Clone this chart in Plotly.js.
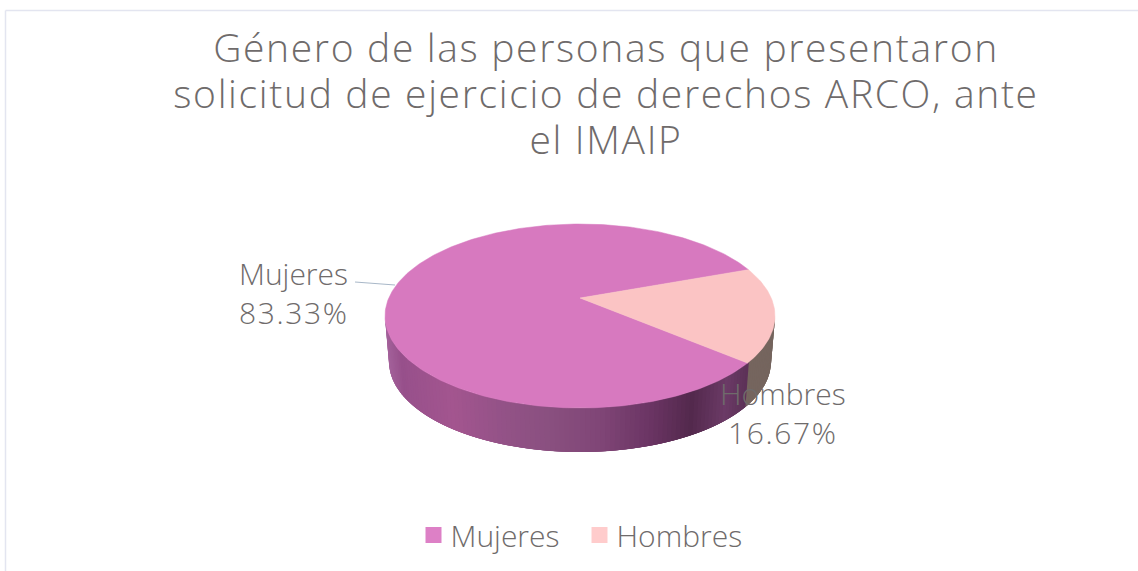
<!DOCTYPE html>
<html><head><meta charset="utf-8"><script src="https://cdn.plot.ly/plotly-3.0.1.min.js"></script>
<style>html,body{margin:0;padding:0;background:#fff}
.gtitle{letter-spacing:1.66px}
.annotation-text tspan.line:nth-child(2){letter-spacing:1.6px}</style></head>
<body><div id="chart" style="width:1138px;height:571px"></div>
<script>
const categories = ["Mujeres", "Hombres"];
const shares = [83.33, 16.67];
const labelsText = ["83.33%", "16.67%"];
const topColors = ["#d779bf", "#fbc4c4"];
const legendColors = ["#dd80c6", "#ffcccc"];
const chartTitle = "Género de las personas que presentaron<br>solicitud de ejercicio de derechos ARCO, ante<br>el IMAIP";

const FONT = "Open Sans, sans-serif", TXT = "#6f6b6b";
// geometry of the tilted disc (pixels = axis units)
const cx = 580, cy = 316, rx = 195, ry = 92, apexLift = 18, depth = 46;
const persp = apexLift * 2 / (ry * 2), ax = rx * Math.sqrt(1 - persp * persp);
const startDeg = 20; // Hombres begins here, clockwise
const rad = d => d * Math.PI / 180;
function project(deg) {
  const u = Math.cos(rad(deg)), v = Math.sin(rad(deg)), w = 1 + persp * v;
  return [cx + ax * u / w, cy - (ry * v + apexLift) / w];
}
function arcPts(a, b) { const p = [], n = Math.ceil(Math.abs(b - a)); for (let i = 0; i <= n; i++) p.push(project(a + (b - a) * i / n)); return p; }
const total = shares[0] + shares[1];
const sweepH = shares[1] / total * 360, sweepM = shares[0] / total * 360;
const hombresEnd = startDeg - sweepH;
const apex = [cx, cy - apexLift];
const slicePts = [arcPts(hombresEnd, hombresEnd - sweepM), arcPts(startDeg, hombresEnd)];
const edgeX = project(hombresEnd)[0];

// wall shading
const stops = [[385,"#a4629b"],[400,"#97508b"],[450,"#a3558f"],[500,"#935287"],[545,"#8a5080"],[600,"#7f4576"],[650,"#6a3463"],[690,"#53294d"],[725,"#6b3a66"],[750,"#5a3055"]];
const hex = c => [1,3,5].map(i => parseInt(c.slice(i,i+2),16));
function shade(x) {
  for (let i = 0; i < stops.length - 1; i++) if (x <= stops[i+1][0]) {
    const t = Math.max(0,(x - stops[i][0])/(stops[i+1][0]-stops[i][0])), a = hex(stops[i][1]), b = hex(stops[i+1][1]);
    return "rgb(" + a.map((v,k)=>Math.round(v+(b[k]-v)*t)).join(",") + ")";
  }
  return stops[stops.length-1][1];
}
const traces = [];
// Painted left-to-right with overlap so no seams show
for (let t = 180; t > 0; t -= 1.5) {
  const a = rad(t), b = rad(Math.max(0, t - 6));
  const xs = [cx+rx*Math.cos(a), cx+rx*Math.cos(b), cx+(rx-4)*Math.cos(b), cx+(rx-4)*Math.cos(a), cx+rx*Math.cos(a)];
  const ys = [cy+ry*Math.sin(a), cy+ry*Math.sin(b), cy+depth+(ry-2)*Math.sin(b), cy+depth+(ry-2)*Math.sin(a), cy+ry*Math.sin(a)];
  const col = xs[0] > edgeX ? "#75655e" : shade(xs[0]);
  traces.push({x:xs,y:ys,mode:"lines",fill:"toself",fillcolor:col,line:{width:0},showlegend:false,hoverinfo:"skip"});
}
slicePts.forEach((pts,i) => {
  const xs=[apex[0]].concat(pts.map(p=>p[0]),[apex[0]]), ys=[apex[1]].concat(pts.map(p=>p[1]),[apex[1]]);
  traces.push({x:xs,y:ys,mode:"lines",fill:"toself",fillcolor:topColors[i],line:{color:topColors[i],width:0.5},name:categories[i],showlegend:false,hoverinfo:"name"});
});
// leader line
traces.push({x:[355,395],y:[282,285],mode:"lines",line:{color:"#a9b8c8",width:1.2},showlegend:false,hoverinfo:"skip"});
// legend keys
categories.forEach((c,i)=>traces.push({x:[null],y:[null],mode:"markers",name:c,marker:{symbol:"square",size:16,color:legendColors[i]},showlegend:true}));

const layout = {
  width:1138,height:571,margin:{l:0,r:0,t:0,b:0},paper_bgcolor:"#fff",plot_bgcolor:"#fff",
  xaxis:{range:[0,1138],visible:false,fixedrange:true},
  yaxis:{range:[571,0],visible:false,fixedrange:true},
  title:{text:chartTitle,x:606/1138,xanchor:"center",y:0.96,yanchor:"top",font:{family:FONT,size:39,weight:300,color:TXT}},
  legend:{orientation:"h",x:576/1138,xanchor:"center",y:1-535/571,yanchor:"middle",font:{family:FONT,size:30,weight:300,color:TXT},itemsizing:"trace",itemwidth:30,bgcolor:"rgba(0,0,0,0)"},
  showlegend:true,
  annotations:[
    {x:237,y:293,xref:"x",yref:"y",text:categories[0]+"<br>"+labelsText[0],showarrow:false,align:"left",font:{family:FONT,size:30,weight:300,color:TXT},xanchor:"left",yanchor:"middle"},
    {x:783,y:413,xref:"x",yref:"y",text:categories[1]+"<br>"+labelsText[1],showarrow:false,font:{family:FONT,size:30,weight:300,color:TXT},xanchor:"center",yanchor:"middle"}
  ],
  shapes:[
    {type:"line",xref:"paper",yref:"paper",x0:5.5/1138,x1:1,y0:1-10.5/571,y1:1-10.5/571,line:{color:"#e3e5f0",width:1.5}},
    {type:"line",xref:"paper",yref:"paper",x0:5.5/1138,x1:5.5/1138,y0:0,y1:1-10.5/571,line:{color:"#e3e5f0",width:1.5}}
  ]
};
Plotly.newPlot("chart",traces,layout,{displayModeBar:false,staticPlot:true}).then(gd=>{
  // Title line pitch is tighter than Plotly's fixed 1.3em
  gd.querySelectorAll(".gtitle tspan.line").forEach((t,i)=>{t.setAttribute("y",62);t.setAttribute("dy",(i*46)+"px");});
  // Tighten legend key/text gap, spread the two items like the reference
  gd.querySelectorAll(".legend .legendtext").forEach(t=>t.setAttribute("x",+t.getAttribute("x")-3));
  gd.querySelectorAll(".legend [clip-path], .legend .scrollbox").forEach(n=>{n.removeAttribute("clip-path");n.style.clipPath="none";});
  const items = gd.querySelectorAll(".legend .traces");
  if(items[1]){const m=/translate\(([-\d.]+),\s*([-\d.]+)\)/.exec(items[1].getAttribute("transform"));
    if(m)items[1].setAttribute("transform",`translate(${+m[1]+12},${m[2]})`);}
});
</script></body></html>
